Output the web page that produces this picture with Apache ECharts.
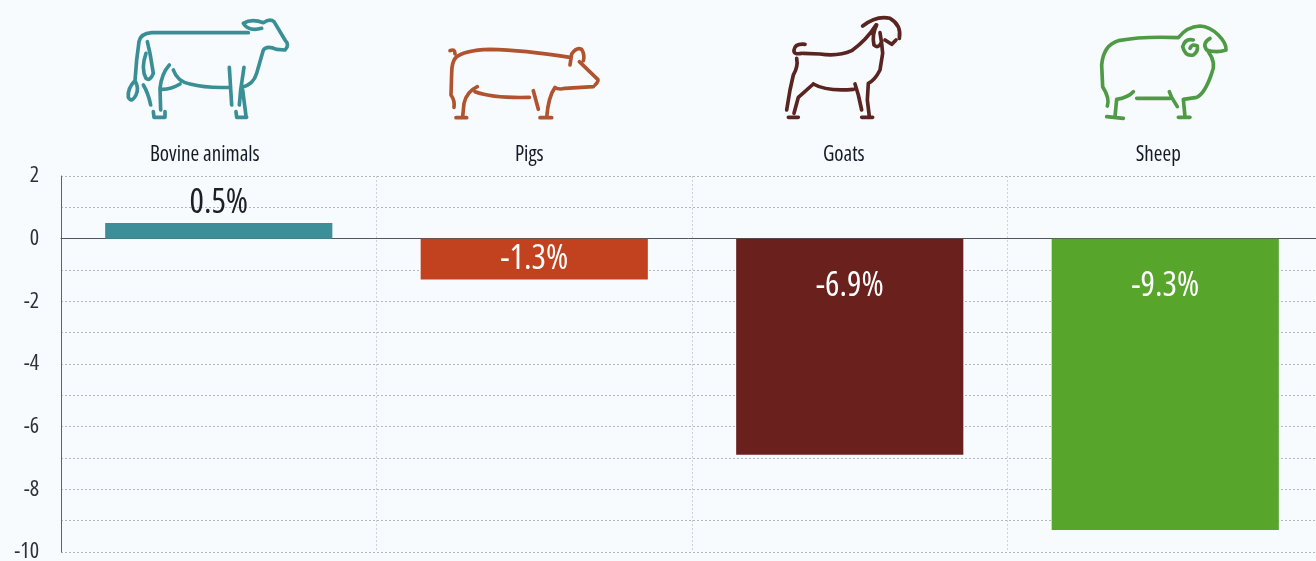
<!DOCTYPE html>
<html>
<head>
<meta charset="utf-8">
<style>html,body{margin:0;padding:0;background:#f8fbfd}#chart{width:1316px;height:561px}</style>
<script src="https://cdn.jsdelivr.net/npm/echarts@6/dist/echarts.min.js"></script>
</head>
<body>
<div id="chart"></div>
<script>
// Change by livestock type, per cent
const categories = ['Bovine animals', 'Pigs', 'Goats', 'Sheep'];
const changes = [0.5, -1.3, -6.9, -9.3];
const barColors = ['#3c8f99', '#c2411f', '#6a201d', '#58a52c'];
const labelColors = ['#1b1f26', '#ffffff', '#ffffff', '#ffffff'];

const FONT = '"Open Sans", sans-serif';
const STRETCH = 'condensed';

// Outline pictograms: offset and path traced at three times their drawn size
const icons = [
  { x: 120, y: 10, color: '#3a8f97', d:
    'M385 68L95 68Q62 70 57 95L50 150L45 212Q22 235 25 262Q35 280 48 255Q58 235 45 212' +
    'M82 95L90 130L100 190Q90 215 78 205Q62 175 78 130M70 225Q85 250 92 285' +
    'M100 305L102 322L135 322L135 305M148 165Q125 190 120 235L122 300M122 238Q150 240 180 222' +
    'M160 180Q172 215 210 222Q260 235 330 232M328 172L335 285M372 172L362 240L358 285' +
    'M348 305L350 322L380 322M368 240L378 318M365 232Q400 225 410 190L430 120Q440 105 470 118L495 120Q510 105 495 90L462 35Q450 25 430 38' +
    'M430 38Q395 25 370 40Q385 65 425 55' },
  { x: 440, y: 30, color: '#b1532f', d:
    'M30 62Q45 55 45 72M45 85Q70 60 150 58Q250 60 390 82M48 82Q35 95 35 130L33 195Q45 212 42 232' +
    'M390 105L395 72Q410 50 425 58Q435 75 430 92M418 95L470 145Q480 150 465 165' +
    'M460 170L375 175Q355 180 345 172Q325 200 320 262M300 263L335 263M280 182L295 238' +
    'M105 185Q160 205 268 202M112 170Q80 185 72 220L68 260M48 263L80 263' },
  { x: 770, y: 10, color: '#5a2420', d:
    'M278 48Q320 15 360 25Q395 45 388 85M330 68L335 100L338 130L330 180Q315 210 295 220L292 270L298 320M275 322L308 322' +
    'M320 45Q305 75 312 105Q325 118 335 95M345 90L365 103L378 90' +
    'M318 45Q290 90 245 122Q205 140 150 132L100 130M95 130Q70 135 72 120Q75 100 105 103' +
    'M80 145Q85 170 70 195L60 240L50 300M130 222L85 262L72 310M55 322L85 322' +
    'M130 222Q170 245 250 238M255 222L265 255L275 300' },
  { x: 1090, y: 10, color: '#4f9a45', d:
    'M265 83Q160 78 85 92Q40 105 35 165L38 230Q60 265 52 288' +
    'M265 83Q290 50 330 48Q360 50 385 75Q410 100 408 120Q380 130 350 120Q335 100 360 85' +
    'M310 90Q285 85 278 110Q285 140 310 135Q325 125 322 108Q305 100 300 115' +
    'M355 125Q380 160 365 190Q345 250 320 262L280 268L285 320M265 322L300 322' +
    'M130 245Q115 262 80 268L75 320M50 320L100 325M140 265L240 265M238 245L245 262L262 290' }
];

function iconImage(icon) {
  const svg = '<svg xmlns="http://www.w3.org/2000/svg" width="180" height="120" viewBox="0 0 540 360">' +
    '<path d="' + icon.d + '" fill="none" stroke="' + icon.color +
    '" stroke-width="11" stroke-linecap="round" stroke-linejoin="round"/></svg>';
  return 'data:image/svg+xml;charset=utf-8,' + encodeURIComponent(svg);
}

// Category names sit a little left of their columns
const nameRich = {};
[28, 10, 12, 14].forEach((gap, i) => {
  nameRich['c' + i] = { padding: [0, gap, 0, 0], color: '#141b28', fontFamily: FONT, fontStyle: STRETCH, fontWeight: 500, fontSize: 21 };
});

const chart = echarts.init(document.getElementById('chart'), null, { renderer: 'canvas' });

chart.setOption({
  animation: false,
  backgroundColor: '#f8fbfd',
  grid: { left: 61, top: 176, width: 1262, height: 376, containLabel: false, outerBoundsMode: 'none' },
  graphic: icons.map(icon => ({
    type: 'image',
    left: icon.x,
    top: icon.y,
    style: { image: iconImage(icon), width: 180, height: 120 },
    silent: true
  })),
  xAxis: [
    {
      // zero line and column separators
      type: 'category',
      data: categories,
      axisLine: { onZero: true, lineStyle: { color: '#50565f', width: 1 } },
      axisTick: { show: false },
      axisLabel: { show: false },
      splitLine: { show: true, lineStyle: { color: '#ccd4dc', type: [2, 2], width: 1 } }
    },
    {
      // category names above the plot
      type: 'category',
      position: 'top',
      data: categories,
      axisLine: { show: false, onZero: false },
      axisTick: { show: false },
      axisLabel: {
        show: true,
        interval: 0,
        margin: 10,
        formatter: (name, i) => '{c' + i + '|' + name + '}',
        rich: nameRich
      }
    }
  ],
  yAxis: {
    type: 'value',
    min: -10,
    max: 2,
    interval: 2,
    axisLine: { show: true, lineStyle: { color: '#5f646c', width: 1 } },
    axisTick: { show: false },
    minorTick: { show: false, splitNumber: 2 },
    axisLabel: { color: '#2c3138', fontFamily: FONT, fontStyle: STRETCH, fontSize: 22, margin: 22, padding: [4, 0, 0, 0] },
    splitLine: { show: true, lineStyle: { color: '#b2b9c1', type: [2, 2], width: 1 } },
    minorSplitLine: { show: true, lineStyle: { color: '#b2b9c1', type: [2, 2], width: 1 } }
  },
  series: [{
    type: 'bar',
    xAxisIndex: 0,
    barWidth: '72%',
    data: changes.map((v, i) => ({
      value: v,
      itemStyle: { color: barColors[i] },
      label: {
        show: true,
        position: v > 0 ? 'top' : (v > -2 ? 'inside' : 'insideTop'),
        distance: v > 0 ? 3 : 31,
        color: labelColors[i],
        fontFamily: FONT,
        fontStyle: STRETCH,
        fontWeight: v > 0 ? 500 : 400,
        fontSize: 34,
        formatter: v + '%'
      }
    }))
  }]
});
</script>
</body>
</html>
